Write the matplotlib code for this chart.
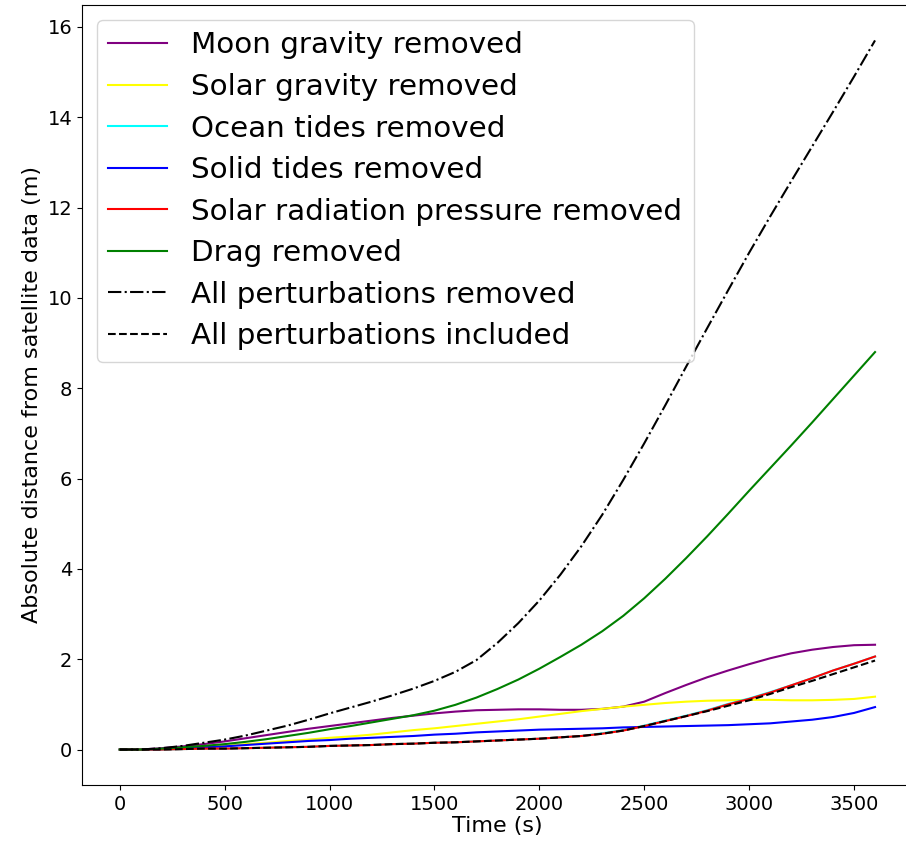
import matplotlib
matplotlib.use("Agg")
import matplotlib.pyplot as plt

# propagation time (s)
time_s = list(range(0, 3601, 100))

# absolute distance from satellite data (m) for each run
moon_removed = [0, 0.0, 0.03, 0.07, 0.12, 0.18, 0.25, 0.32, 0.39, 0.46,
                0.52, 0.58, 0.64, 0.7, 0.75, 0.8, 0.84, 0.87, 0.88, 0.89,
                0.89, 0.88, 0.88, 0.9, 0.95, 1.06, 1.25, 1.43, 1.6, 1.75,
                1.89, 2.02, 2.13, 2.21, 2.27, 2.31, 2.32]
solar_removed = [0, 0.0, 0.01, 0.03, 0.05, 0.08, 0.12, 0.15, 0.19, 0.22,
                 0.26, 0.29, 0.33, 0.38, 0.43, 0.47, 0.52, 0.57, 0.62, 0.67,
                 0.73, 0.79, 0.85, 0.9, 0.95, 0.99, 1.03, 1.06, 1.08, 1.09,
                 1.1, 1.1, 1.09, 1.09, 1.1, 1.12, 1.17]
ocean_removed = [0, 0.0, 0.0, 0.01, 0.02, 0.02, 0.03, 0.04, 0.05, 0.06,
                 0.08, 0.09, 0.1, 0.12, 0.13, 0.15, 0.16, 0.18, 0.2, 0.22,
                 0.24, 0.27, 0.3, 0.36, 0.43, 0.53, 0.64, 0.75, 0.87, 1.01,
                 1.13, 1.27, 1.42, 1.58, 1.75, 1.9, 2.06]
solid_removed = [0, 0.0, 0.01, 0.03, 0.05, 0.07, 0.1, 0.13, 0.16, 0.19,
                 0.21, 0.24, 0.26, 0.28, 0.3, 0.33, 0.35, 0.38, 0.4, 0.42,
                 0.44, 0.45, 0.46, 0.47, 0.49, 0.5, 0.51, 0.52, 0.53, 0.54,
                 0.56, 0.58, 0.62, 0.66, 0.72, 0.81, 0.94]
srp_removed = [0, 0.0, 0.0, 0.01, 0.02, 0.02, 0.03, 0.04, 0.05, 0.06,
               0.08, 0.09, 0.1, 0.12, 0.13, 0.15, 0.16, 0.18, 0.2, 0.22,
               0.24, 0.27, 0.3, 0.35, 0.42, 0.52, 0.63, 0.74, 0.86, 1.0,
               1.12, 1.26, 1.42, 1.58, 1.75, 1.9, 2.06]
drag_removed = [0, 0.0, 0.02, 0.05, 0.08, 0.12, 0.17, 0.23, 0.3, 0.37,
                0.45, 0.52, 0.6, 0.68, 0.76, 0.86, 0.99, 1.15, 1.34, 1.55,
                1.79, 2.05, 2.32, 2.62, 2.96, 3.35, 3.78, 4.24, 4.72, 5.22,
                5.73, 6.23, 6.73, 7.24, 7.76, 8.28, 8.8]
all_removed = [0, 0.0, 0.03, 0.08, 0.15, 0.22, 0.31, 0.42, 0.53, 0.66,
               0.8, 0.93, 1.06, 1.2, 1.35, 1.52, 1.72, 1.98, 2.36, 2.8,
               3.3, 3.87, 4.5, 5.2, 5.97, 6.78, 7.62, 8.48, 9.33, 10.17,
               11.0, 11.8, 12.58, 13.35, 14.12, 14.9, 15.7]
all_included = [0, 0.0, 0.0, 0.01, 0.02, 0.02, 0.03, 0.04, 0.05, 0.06,
                0.08, 0.09, 0.1, 0.12, 0.13, 0.15, 0.16, 0.18, 0.2, 0.22,
                0.24, 0.27, 0.3, 0.35, 0.42, 0.52, 0.63, 0.74, 0.85, 0.97,
                1.09, 1.23, 1.38, 1.52, 1.67, 1.82, 1.97]

fig = plt.figure(figsize=(9.06, 8.41), dpi=100)
ax = fig.add_axes([0.0905, 0.0666, 0.917, 0.9275])

ax.plot(time_s, moon_removed, color='purple', label='Moon gravity removed')
ax.plot(time_s, solar_removed, color='yellow', label='Solar gravity removed')
ax.plot(time_s, ocean_removed, color='cyan', label='Ocean tides removed')
ax.plot(time_s, solid_removed, color='blue', label='Solid tides removed')
ax.plot(time_s, srp_removed, color='red', label='Solar radiation pressure removed')
ax.plot(time_s, drag_removed, color='green', label='Drag removed')
ax.plot(time_s, all_removed, color='black', linestyle='-.', label='All perturbations removed')
ax.plot(time_s, all_included, color='black', linestyle='--', label='All perturbations included')

# the right edge of the frame falls outside the saved image
ax.spines['right'].set_visible(False)

ax.set_xlabel('Time (s)', fontsize=16, labelpad=2)
ax.set_ylabel('Absolute distance from satellite data (m)', fontsize=16)
ax.tick_params(labelsize=14)

ax.legend(loc='upper left', fontsize=21.2, labelspacing=0.46)

fig.savefig('out.png', dpi=100)
